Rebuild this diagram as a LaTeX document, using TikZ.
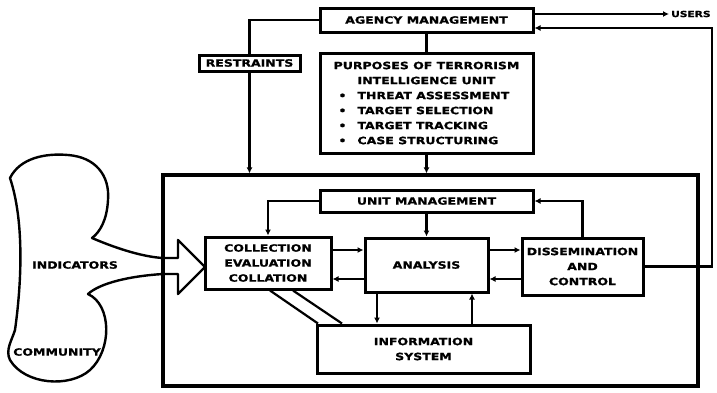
\documentclass[tikz,border=0pt]{standalone}
\usepackage{fontspec}
\newfontfamily\diagfont[FakeStretch=1.25,FakeBold=1.2]{DejaVu Sans}
\usetikzlibrary{arrows.meta,positioning}

\begin{document}
\begin{tikzpicture}[x=1pt,y=-1pt,font=\diagfont\bfseries\fontsize{10pt}{15pt}\selectfont]
	\useasboundingbox (0,0) rectangle (717,392);
	\tikzstyle{block}=[draw,rectangle,line width=3pt,inner sep=0pt,align=center]
	\tikzstyle{edge}=[-{Latex[length=6pt,width=6pt]},line width=2.2pt]
	\tikzstyle{link}=[line width=2.2pt]
	% top row
	\node[block,minimum width=213pt,minimum height=24pt] (agency) at (426.5,20) {AGENCY MANAGEMENT};
	\node[anchor=west,inner sep=0pt,font=\diagfont\bfseries\fontsize{8.5pt}{10pt}\selectfont] (users) at (671,14) {USERS};
	\node[block,minimum width=101pt,minimum height=16pt] (restr) at (249.5,63) {RESTRAINTS};
	\node[block,minimum width=213pt,minimum height=100pt] (purp) at (426.5,103) {PURPOSES OF TERRORISM\\INTELLIGENCE UNIT\\
		\makebox[176pt][l]{\textbullet\hspace{11pt}THREAT ASSESSMENT}\\
		\makebox[176pt][l]{\textbullet\hspace{11pt}TARGET SELECTION}\\
		\makebox[176pt][l]{\textbullet\hspace{11pt}TARGET TRACKING}\\
		\makebox[176pt][l]{\textbullet\hspace{11pt}CASE STRUCTURING}};
	% the unit
	\node[draw,line width=3.2pt,minimum width=535pt,minimum height=211pt] (frame) at (430.5,280.5) {};
	\node[block,minimum width=213pt,minimum height=22pt] (unitm) at (426.5,201) {UNIT MANAGEMENT};
	\node[block,minimum width=126pt,minimum height=52pt] (coll) at (268,263) {COLLECTION\\EVALUATION\\COLLATION};
	\node[block,minimum width=123pt,minimum height=54pt] (anal) at (426.5,265) {ANALYSIS};
	\node[block,minimum width=121pt,minimum height=57pt] (diss) at (582.5,266.5) {DISSEMINATION\\AND\\CONTROL};
	\node[block,minimum width=213pt,minimum height=48pt] (info) at (423.5,349) {INFORMATION\\SYSTEM};
	% outside
	\node (indic) at (75,265) {INDICATORS};
	\node (comm) at (57,352) {COMMUNITY};
	\draw[line width=2.4pt,line join=round] (178,258) -- (178,240) -- (205,267) -- (178,294) -- (178,274) -- (163,274)
		.. controls (130,276) and (100,283) .. (88,294)
		.. controls (112,305) and (112,350) .. (90,370)
		.. controls (70,388) and (25,385) .. (10,360)
		.. controls (5,350) and (12,340) .. (15,330)
		.. controls (22,280) and (24,220) .. (10,178)
		.. controls (20,158) and (45,153) .. (68,155)
		.. controls (95,157) and (110,175) .. (108,200)
		.. controls (107,220) and (100,232) .. (92,238)
		.. controls (120,250) and (145,257) .. (163,258) -- cycle;
	% connectors
	\draw[link] (restr.north) |- (agency.west);
	\draw[edge] (restr.south) -- (restr.south |- frame.north);
	\draw[link] (agency.south) -- (purp.north);
	\draw[edge] (purp.south) -- (purp.south |- frame.north);
	\draw[edge] ([yshift=6pt]agency.east) -- ([xshift=-2pt]users.west);
	\coordinate (rt) at (712,28);
	\draw[edge] (diss.east) -| (rt) -- (rt -| agency.east);
	\draw[edge] (unitm.west) -| (coll.north);
	\draw[edge] (unitm.south) -- (anal.north);
	\draw[edge] (diss.north) |- (unitm.east);
	\draw[edge] ([yshift=13pt]coll.east) -- ([yshift=13pt]coll.east -| anal.west);
	\draw[edge] ([yshift=-14pt]anal.west) -- ([yshift=-14pt]anal.west -| coll.east);
	\draw[edge] ([yshift=15pt]anal.east) -- ([yshift=15pt]anal.east -| diss.west);
	\draw[edge] ([yshift=-12.5pt]diss.west) -- ([yshift=-12.5pt]diss.west -| anal.east);
	\draw[edge] ([xshift=-49.5pt]anal.south) -- ([xshift=-49.5pt]anal.south |- info.north);
	\draw[edge] ([xshift=45.5pt]anal.south |- info.north) -- ([xshift=45.5pt]anal.south);
	\draw[link] ([xshift=2pt]coll.south) -- ([xshift=-105.5pt]info.north);
	\draw[link] ([xshift=25pt]coll.south) -- ([xshift=-81.5pt]info.north);
\end{tikzpicture}
\end{document}
